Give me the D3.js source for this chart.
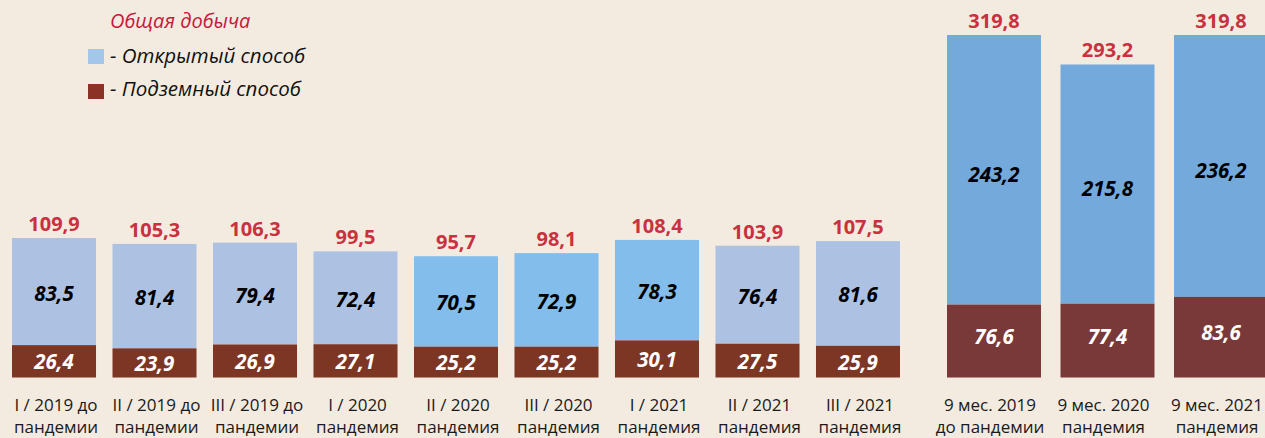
<!DOCTYPE html>
<html>
<head>
<meta charset="utf-8">
<script src="https://cdn.jsdelivr.net/npm/d3@7"></script>
<style>
  html, body { margin: 0; padding: 0; background: #f3ebdf; }
  svg { display: block; font-family: "Open Sans", sans-serif; }
</style>
</head>
<body>
<svg id="chart" width="1265" height="438"></svg>
<script>
// quarterly data, млн т
var quarters = ["I / 2019 до|пандемии", "II / 2019 до|пандемии", "III / 2019 до|пандемии",
  "I / 2020|пандемия", "II / 2020|пандемия", "III / 2020|пандемия",
  "I / 2021|пандемия", "II / 2021|пандемия", "III / 2021|пандемия"];
var openQ = [83.5, 81.4, 79.4, 72.4, 70.5, 72.9, 78.3, 76.4, 81.6];
var underQ = [26.4, 23.9, 26.9, 27.1, 25.2, 25.2, 30.1, 27.5, 25.9];
var totalQ = [109.9, 105.3, 106.3, 99.5, 95.7, 98.1, 108.4, 103.9, 107.5];

// 9 months data
var periods = ["9 мес. 2019|до пандемии", "9 мес. 2020|пандемия", "9 мес. 2021|пандемия"];
var openP = [243.2, 215.8, 236.2];
var underP = [76.6, 77.4, 83.6];
var totalP = [319.8, 293.2, 319.8];

var legendTitle = "Общая добыча";
var legendItems = ["- Открытый способ", "- Подземный способ"];

var openColorsQ = ["#adc2e3", "#adc2e3", "#adc2e3", "#adc2e3", "#82bdeb", "#82bdeb", "#82bdeb", "#adc2e3", "#adc2e3"];
var red = "#c9313f";
var bottomClip = 377.5;

var svg = d3.select("#chart");

svg.append("defs").append("clipPath").attr("id", "clip")
  .append("rect").attr("x", 0).attr("y", 0).attr("width", 1265).attr("height", bottomClip);

function fmt(v) {
  return d3.format(".1f")(v).replace(".", ",");
}

function drawPanel(opts) {
  var x = d3.scaleBand().domain(opts.cats).range(opts.xRange).paddingInner(opts.pad).paddingOuter(0);
  var y = d3.scaleLinear().domain([0, d3.max(opts.total)]).range(opts.yRange);
  var g = svg.append("g");
  var bars = g.append("g").attr("clip-path", "url(#clip)");

  opts.cats.forEach(function (c, i) {
    var u = opts.under[i], o = opts.open[i];
    var bx = x(c), bw = x.bandwidth();
    bars.append("rect")
      .attr("x", bx).attr("width", bw)
      .attr("y", y(u + o)).attr("height", y(u) - y(u + o))
      .attr("fill", opts.openColor[i]);
    bars.append("rect")
      .attr("x", bx).attr("width", bw)
      .attr("y", y(u)).attr("height", y(0) - y(u))
      .attr("fill", opts.underColor);

    var cx = bx + bw / 2;
    g.append("text").attr("x", cx).attr("y", y(opts.total[i]) - 7)
      .attr("text-anchor", "middle").attr("font-size", 20).attr("font-weight", 700)
      .attr("fill", red).text(fmt(opts.total[i]));

    var midOpen = (y(u + o) + y(u)) / 2 + opts.openDy;
    g.append("text").attr("x", cx).attr("y", midOpen + 7)
      .attr("text-anchor", "middle").attr("font-size", 20.5).attr("font-weight", 700)
      .attr("font-style", "italic").attr("fill", "#000").text(fmt(o));

    var midUnder = (y(u) + Math.min(y(0), bottomClip)) / 2 + opts.underDy;
    g.append("text").attr("x", cx).attr("y", midUnder + 7)
      .attr("text-anchor", "middle").attr("font-size", 20.5).attr("font-weight", 700)
      .attr("font-style", "italic").attr("fill", "#fff").text(fmt(u));

    var lines = c.split("|");
    var t = g.append("text").attr("text-anchor", "middle").attr("font-size", 17).attr("fill", "#1a1a1a");
    lines.forEach(function (l, k) {
      t.append("tspan").attr("x", cx + opts.labelDx).attr("y", 411 + k * 22).text(l);
    });
  });
}

drawPanel({
  cats: quarters, open: openQ, under: underQ, total: totalQ,
  xRange: [12, 900], pad: 0.164, yRange: [379, 238],
  openColor: openColorsQ, underColor: "#7d3524", openDy: 2, underDy: 1, labelDx: 2
});

drawPanel({
  cats: periods, open: openP, under: underP, total: totalP,
  xRange: [947, 1268], pad: 0.172, yRange: [389.5, 35],
  openColor: periods.map(function () { return "#74a9dc"; }), underColor: "#7a3939", openDy: 5, underDy: -4, labelDx: -4
});

// legend
var lg = svg.append("g");
lg.append("text").attr("x", 110).attr("y", 28).attr("font-size", 20).attr("font-style", "italic")
  .attr("fill", "#c51a3a").text(legendTitle);
var swatches = ["#a4c6ea", "#8b3126"];
legendItems.forEach(function (l, i) {
  lg.append("rect").attr("x", 88).attr("y", 49 + i * 35).attr("width", 16).attr("height", 15).attr("fill", swatches[i]);
  lg.append("text").attr("x", 110).attr("y", 63 + i * 33).attr("font-size", 20.5).attr("font-style", "italic")
    .attr("fill", "#111").text(l);
});
</script>
</body>
</html>
